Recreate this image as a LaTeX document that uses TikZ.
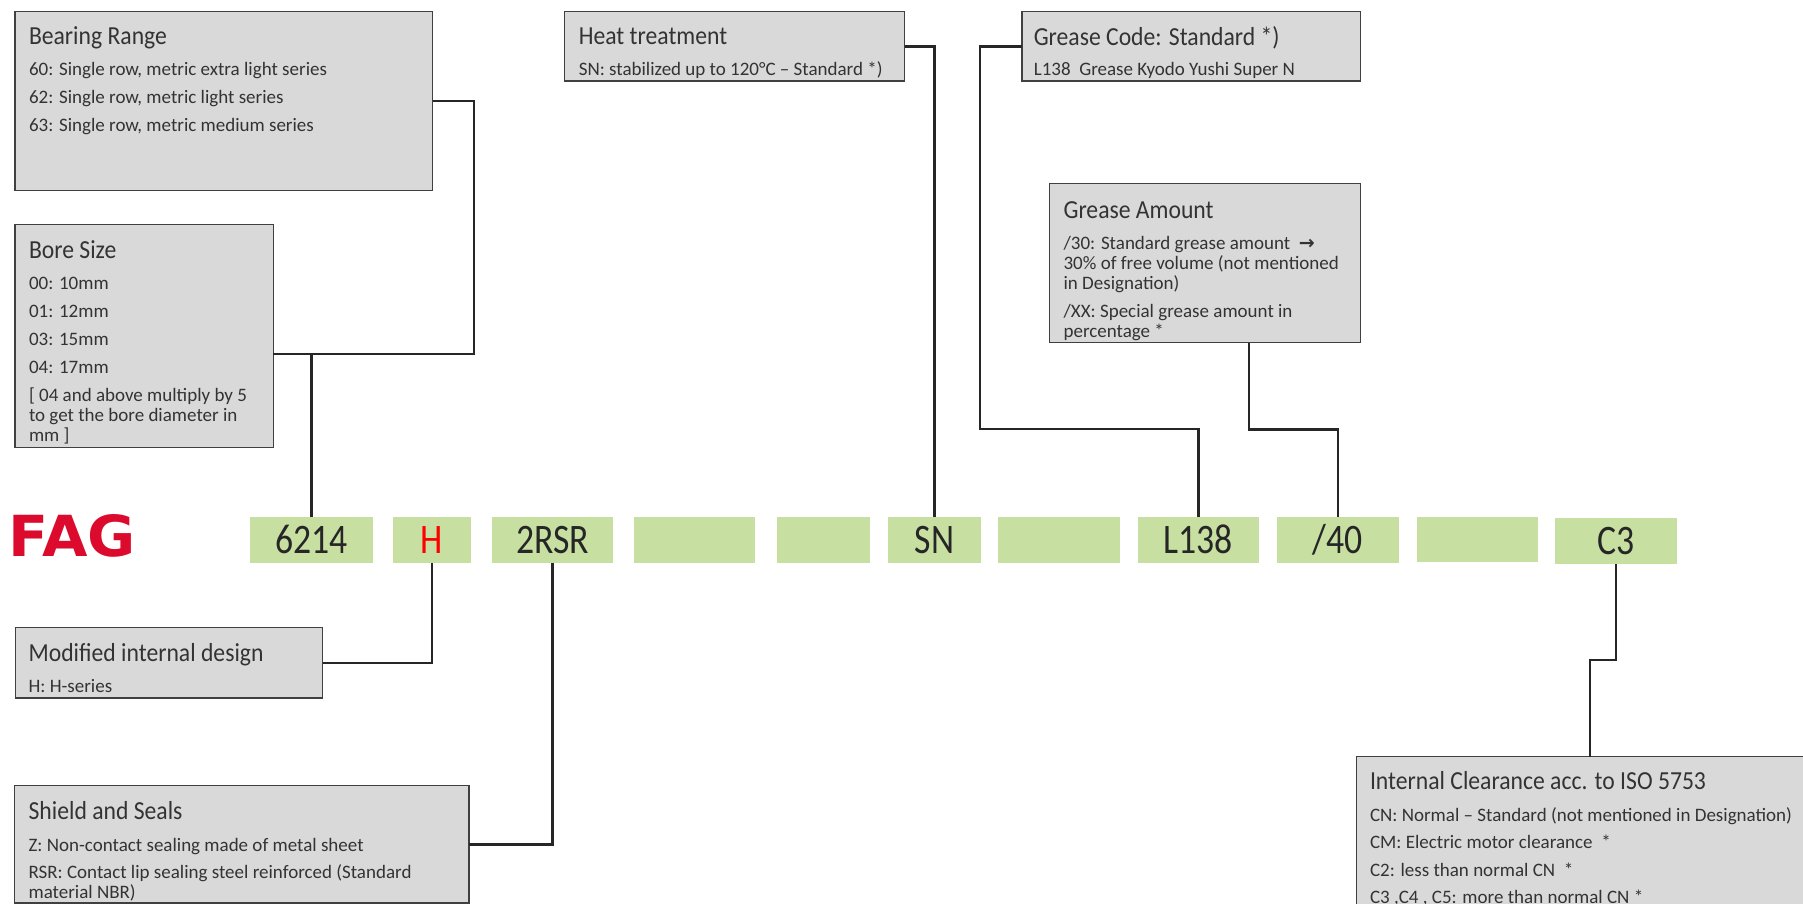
\documentclass[tikz,border=0pt]{standalone}
\usepackage{fontspec}
\usepackage{graphicx}
\setmainfont{Carlito}
\newfontfamily\hdfont{Carlito}[FakeStretch=0.91]
\newfontfamily\codefont{Carlito}[FakeStretch=0.85]
\newfontfamily\djv{DejaVu Sans}
\definecolor{boxfill}{HTML}{D9D9D9}
\definecolor{boxline}{HTML}{404040}
\definecolor{codegreen}{HTML}{C8DFA2}
\definecolor{codetext}{HTML}{262626}
\definecolor{connline}{HTML}{262626}
\definecolor{bodytext}{HTML}{333333}
\definecolor{fagred}{HTML}{DC0A2D}
\newcommand\hd[1]{\rule{0pt}{20pt}{\hdfont\fontsize{26}{28}\selectfont #1}}
\tikzset{
  infobox/.style={draw=boxline, fill=boxfill, line width=1.4pt, rectangle, inner sep=0pt, outer sep=0pt, anchor=north west},
  codebox/.style={fill=codegreen, rectangle, inner sep=0pt, outer sep=0pt, anchor=north west, minimum height=46pt, text height=26.5pt, text depth=0pt, font=\codefont\fontsize{42}{42}\selectfont, text=codetext},
  conn/.style={draw=connline, line width=2.4pt},
  boxtext/.style={anchor=north west, inner sep=0pt, outer sep=0pt, align=left, text=bodytext, font=\fontsize{19}{20}\selectfont},
}
\begin{document}
\begin{tikzpicture}[x=1pt, y=-1pt]
\clip (0,0) rectangle (1803,904);
\fill[white] (0,0) rectangle (1803,904);

% info boxes
\node[infobox, minimum width=417.7pt, minimum height=179pt] (br) at (15,11.7) {};
\node[infobox, minimum width=258.3pt, minimum height=223.4pt] (bs) at (15,224.3) {};
\node[infobox, minimum width=340pt, minimum height=69.3pt] (ht) at (564.6,11.7) {};
\node[infobox, minimum width=338.9pt, minimum height=69.3pt] (gc) at (1021.8,11.7) {};
\node[infobox, minimum width=311.2pt, minimum height=159.4pt] (ga) at (1049.5,183.3) {};
\node[infobox, minimum width=307.1pt, minimum height=70.3pt] (md) at (15.4,627.7) {};
\node[infobox, minimum width=454.7pt, minimum height=117.3pt] (ss) at (14.3,785.7) {};
\node[infobox, minimum width=480pt, minimum height=170pt] (ic) at (1356.7,756.7) {};

% box texts
\node[boxtext] (brt) at (29,25) {\hd{Bearing Range}\\[11pt]
60: Single row, metric extra light series\\[8pt]
62: Single row, metric light series\\[8pt]
63: Single row, metric medium series};
\node[boxtext] (bst) at (29,238.3) {\hd{Bore Size}\\[10.7pt]
00: 10mm\\[8pt]
01: 12mm\\[8pt]
03: 15mm\\[8pt]
04: 17mm\\[8pt]
{[} 04 and above multiply by 5\\
to get the bore diameter in\\
mm ]};
\node[boxtext] (htt) at (578.8,24.3) {\hd{Heat treatment}\\[11.7pt]
SN: stabilized up to 120°C – Standard *)};
\node[boxtext] (gct) at (1033.8,25.7) {\hd{Grease Code: Standard *)}\\[10.3pt]
L138\ \ Grease Kyodo Yushi Super N};
\node[boxtext] (gat) at (1063.6,198.3) {\hd{Grease Amount}\\[11pt]
/30: Standard grease amount\ \ {\djv\bfseries →}\\
30\% of free volume (not mentioned\\
in Designation)\\[8.4pt]
/XX: Special grease amount in\\
percentage *};
\node[boxtext] (mdt) at (28.6,641.7) {\hd{Modified internal design}\\[10.6pt]
H: H-series};
\node[boxtext] (sst) at (28.6,799.3) {\hd{Shield and Seals}\\[12pt]
Z: Non-contact sealing made of metal sheet\\[7pt]
RSR: Contact lip sealing steel reinforced (Standard\\
material NBR)};
\node[boxtext] (ict) at (1370,769.3) {\hd{Internal Clearance acc. to ISO 5753}\\[12.4pt]
CN: Normal – Standard (not mentioned in Designation)\\[7pt]
CM: Electric motor clearance\ \ *\\[7.5pt]
C2: less than normal CN\ \ *\\[7.3pt]
C3 ,C4 , C5: more than normal CN *};

% logo
\node[anchor=north west, inner sep=0pt, outer sep=0pt, text=fagred] (fag) at (9,514) {\resizebox{127pt}{42pt}{\djv\bfseries FAG}};

% designation code boxes
\node[codebox, minimum width=122.5pt] (g1) at (250.4,517) {6214};
\node[codebox, minimum width=78.5pt] (g2) at (392.8,517) {\textcolor{red}{H}};
\node[codebox, minimum width=120.5pt] (g3) at (492.2,517) {2RSR};
\node[codebox, minimum width=120.9pt] (g4) at (634.1,517) {};
\node[codebox, minimum width=92.9pt] (g5) at (776.9,517) {};
\node[codebox, minimum width=92.8pt] (g6) at (888.2,517) {SN};
\node[codebox, minimum width=121.7pt] (g7) at (997.9,517) {};
\node[codebox, minimum width=121pt] (g8) at (1137.9,517) {L138};
\node[codebox, minimum width=121.9pt] (g9) at (1276.8,517) {/40};
\node[codebox, minimum width=121pt, minimum height=45pt] (g10) at (1417,517) {};
\node[codebox, minimum width=121.9pt] (g11) at (1554.9,518) {C3};

% turning points
\coordinate (j) at (311.65,354);
\coordinate (gcturn) at (979.9,429);
\coordinate (gaturn) at (1248.7,429.3);
\coordinate (icturn) at (1590,660);

% connectors
\draw[conn] (br.east) -- ++(41.3,0) |- (j);
\draw[conn] (bs.east |- j) -- (j) -- (g1.north);
\draw[conn] (ht.east) -| (g6.north);
\draw[conn] (gc.west) -| (gcturn) -| (g8.north);
\draw[conn] (ga.south -| gaturn) -- (gaturn) -| (g9.north);
\draw[conn] (g2.south) |- (md.east);
\draw[conn] (g3.south) |- (ss.east);
\draw[conn] (g11.south) |- (icturn) -- (icturn |- ic.north);
\end{tikzpicture}
\end{document}
